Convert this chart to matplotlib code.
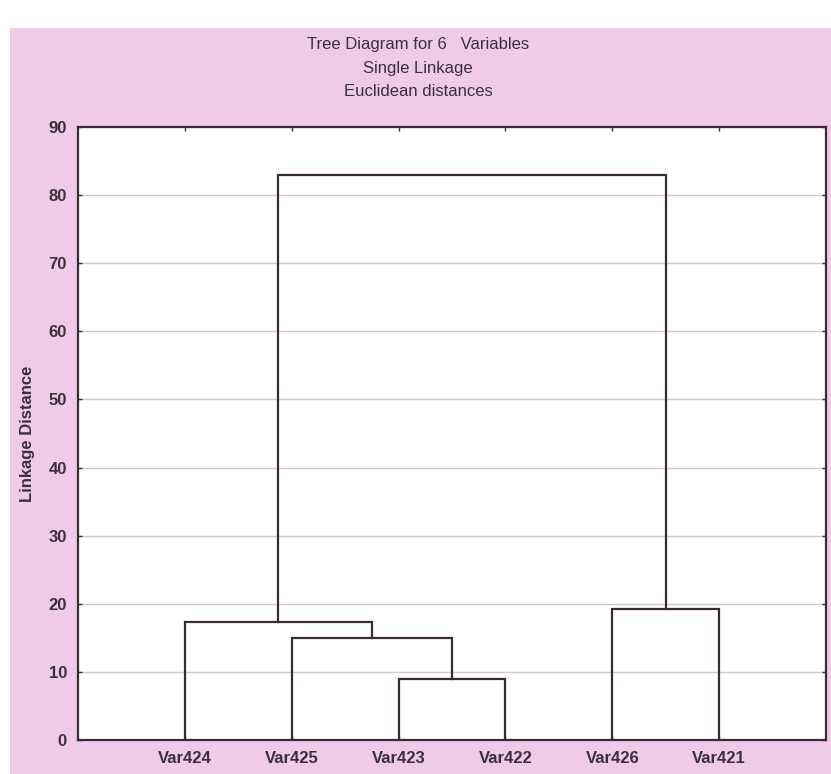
import matplotlib
matplotlib.use("Agg")
import matplotlib.pyplot as plt
from matplotlib.patches import Rectangle

plt.rcParams['font.family'] = ['Liberation Sans Narrow', 'Liberation Sans', 'DejaVu Sans']

# leaves in dendrogram order, merges as (left id, right id, height); ids >= 6 are clusters
leaves = ['Var424', 'Var425', 'Var423', 'Var422', 'Var426', 'Var421']
link_a = [2, 1, 0, 4, 8]
link_b = [3, 6, 7, 5, 9]
link_h = [9.0, 15.0, 17.3, 19.2, 83.0]

yticks = [0, 10, 20, 30, 40, 50, 60, 70, 80, 90]
titles = ['Tree Diagram for 6   Variables', 'Single Linkage', 'Euclidean distances']

pink = '#f0cbe8'
ink = '#3a2a33'
txt = '#3c3038'

fig = plt.figure(figsize=(8.31, 7.74), dpi=100)
fig.patch.set_facecolor('white')

# pink page behind everything
bg = fig.add_axes([0, 0, 1, 1], zorder=-1)
bg.axis('off')
bg.add_patch(Rectangle((10 / 831, 0), 1, (774 - 28) / 774, transform=bg.transAxes,
                       facecolor=pink, edgecolor='none'))

ax = fig.add_axes([78 / 831, 1 - 740 / 774, 748 / 831, (740 - 127) / 774], zorder=1)
ax.set_facecolor('white')

# node x positions and heights
xs = {i: i + 1.0 for i in range(len(leaves))}
hs = {i: 0.0 for i in range(len(leaves))}
for k, (a, b, h) in enumerate(zip(link_a, link_b, link_h)):
    ax.plot([xs[a], xs[a], xs[b], xs[b]], [hs[a], h, h, hs[b]],
            color=ink, lw=1.6, solid_joinstyle='miter', zorder=3)
    nid = len(leaves) + k
    xs[nid] = (xs[a] + xs[b]) / 2
    hs[nid] = h

ax.set_xlim(0, len(leaves) + 1)
ax.set_ylim(0, 90)
ax.set_yticks(yticks)
ax.set_xticks(range(1, len(leaves) + 1))
ax.set_xticklabels(leaves, fontsize=12, fontweight='bold', color=txt)
ax.set_yticklabels([str(v) for v in yticks], fontsize=12, fontweight='bold', color=txt)
ax.tick_params(axis='both', direction='in', length=3, width=1, color=ink,
               top=True, right=True, pad=8)
ax.grid(axis='y', color='#d9c3cc', lw=1)
for s in ax.spines.values():
    s.set_color(ink)
    s.set_linewidth(1.6)

ax.set_ylabel('Linkage Distance', fontsize=12, fontweight='bold', color=txt, labelpad=10)

for i, t in enumerate(titles):
    fig.text(418 / 831, 1 - (45 + 23 * i) / 774, t, ha='center', va='center',
             fontsize=12, color=txt)

fig.savefig('out.png', dpi=100)
